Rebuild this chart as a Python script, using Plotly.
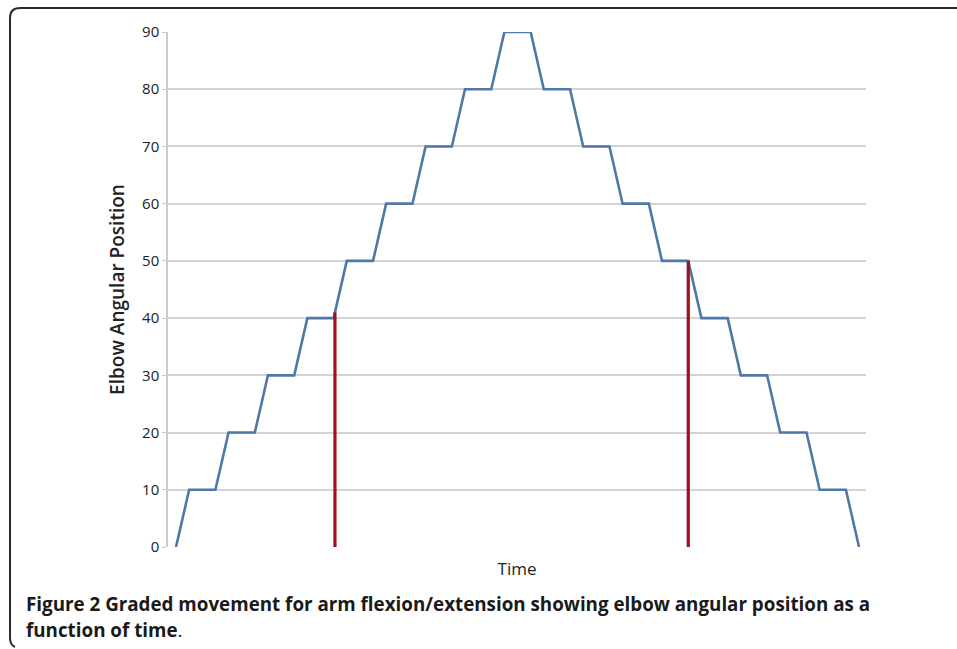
import plotly.graph_objects as go

# Data (time units: ramp = 1, plateau = 2)
time = [0, 1, 3, 4, 6, 7, 9, 10, 12, 13, 15, 16, 18, 19, 21, 22, 24, 25, 27,
        28, 30, 31, 33, 34, 36, 37, 39, 40, 42, 43, 45, 46, 48, 49, 51, 52]
angle = [0, 10, 10, 20, 20, 30, 30, 40, 40, 50, 50, 60, 60, 70, 70, 80, 80, 90, 90,
         80, 80, 70, 70, 60, 60, 50, 50, 40, 40, 30, 30, 20, 20, 10, 10, 0]
marker1_x = [12.1, 12.1]
marker1_y = [0, 41]
marker2_x = [39.0, 39.0]
marker2_y = [0, 50]
y_ticks = [0, 10, 20, 30, 40, 50, 60, 70, 80, 90]

W, H = 957, 649
L, R, T, B = 168, 866, 32, 547  # plot area pixels


def px(x):
    return (x - L) / (R - L)


def py(y):
    return (B - y) / (B - T)


fig = go.Figure()
fig.add_trace(go.Scatter(x=time, y=angle, mode="lines",
                         line=dict(color="#4E79A7", width=2.6), showlegend=False))
fig.add_trace(go.Scatter(x=marker1_x, y=marker1_y, mode="lines",
                         line=dict(color="#A3101A", width=3.2), showlegend=False))
fig.add_trace(go.Scatter(x=marker2_x, y=marker2_y, mode="lines",
                         line=dict(color="#A3101A", width=3.2), showlegend=False))

# frame
path = (f"M {px(957)},{py(8)} L {px(20)},{py(8)} "
        f"Q {px(10)},{py(8)} {px(10)},{py(18)} "
        f"L {px(10)},{py(638)} Q {px(10)},{py(645)} {px(15)},{py(647)}")
fig.add_shape(type="path", path=path, xref="paper", yref="paper",
              line=dict(color="#2a2a2a", width=2))

fig.add_annotation(text="<b>Figure 2</b> <b>Graded movement for arm flexion/extension showing elbow angular position as a</b>",
                   xref="paper", yref="paper", x=px(24), y=py(604),
                   xanchor="left", yanchor="middle", showarrow=False,
                   font=dict(family="Open Sans", size=18.8, color="#1a1a1a"))
fig.add_annotation(text="<b>function of time</b>.",
                   xref="paper", yref="paper", x=px(24), y=py(630),
                   xanchor="left", yanchor="middle", showarrow=False,
                   font=dict(family="Open Sans", size=18.8, color="#1a1a1a"))

fig.update_layout(
    width=W, height=H,
    margin=dict(l=L, r=W - R, t=T, b=H - B),
    paper_bgcolor="white", plot_bgcolor="white",
    font=dict(family="Open Sans", color="#222"),
    xaxis=dict(range=[-0.61, 52.53], showticklabels=False, ticks="",
               showgrid=False, zeroline=False, showline=False,
               title=dict(text="Time", font=dict(size=17, color="#222"), standoff=16)),
    yaxis=dict(range=[0, 90], tickvals=y_ticks, showgrid=True, gridcolor="#d3d3d3",
               gridwidth=1.5, zeroline=False, showline=True, linecolor="#cccccc",
               linewidth=1.5, ticks="outside", ticklen=4, tickcolor="#cccccc",
               tickfont=dict(size=15, color="#222"),
               title=dict(text="Elbow Angular Position",
                          font=dict(size=19, color="#222", weight=600), standoff=12)),
)
fig.write_html("out.html", config={"displayModeBar": False},
               post_script="document.body.style.margin='0';")
